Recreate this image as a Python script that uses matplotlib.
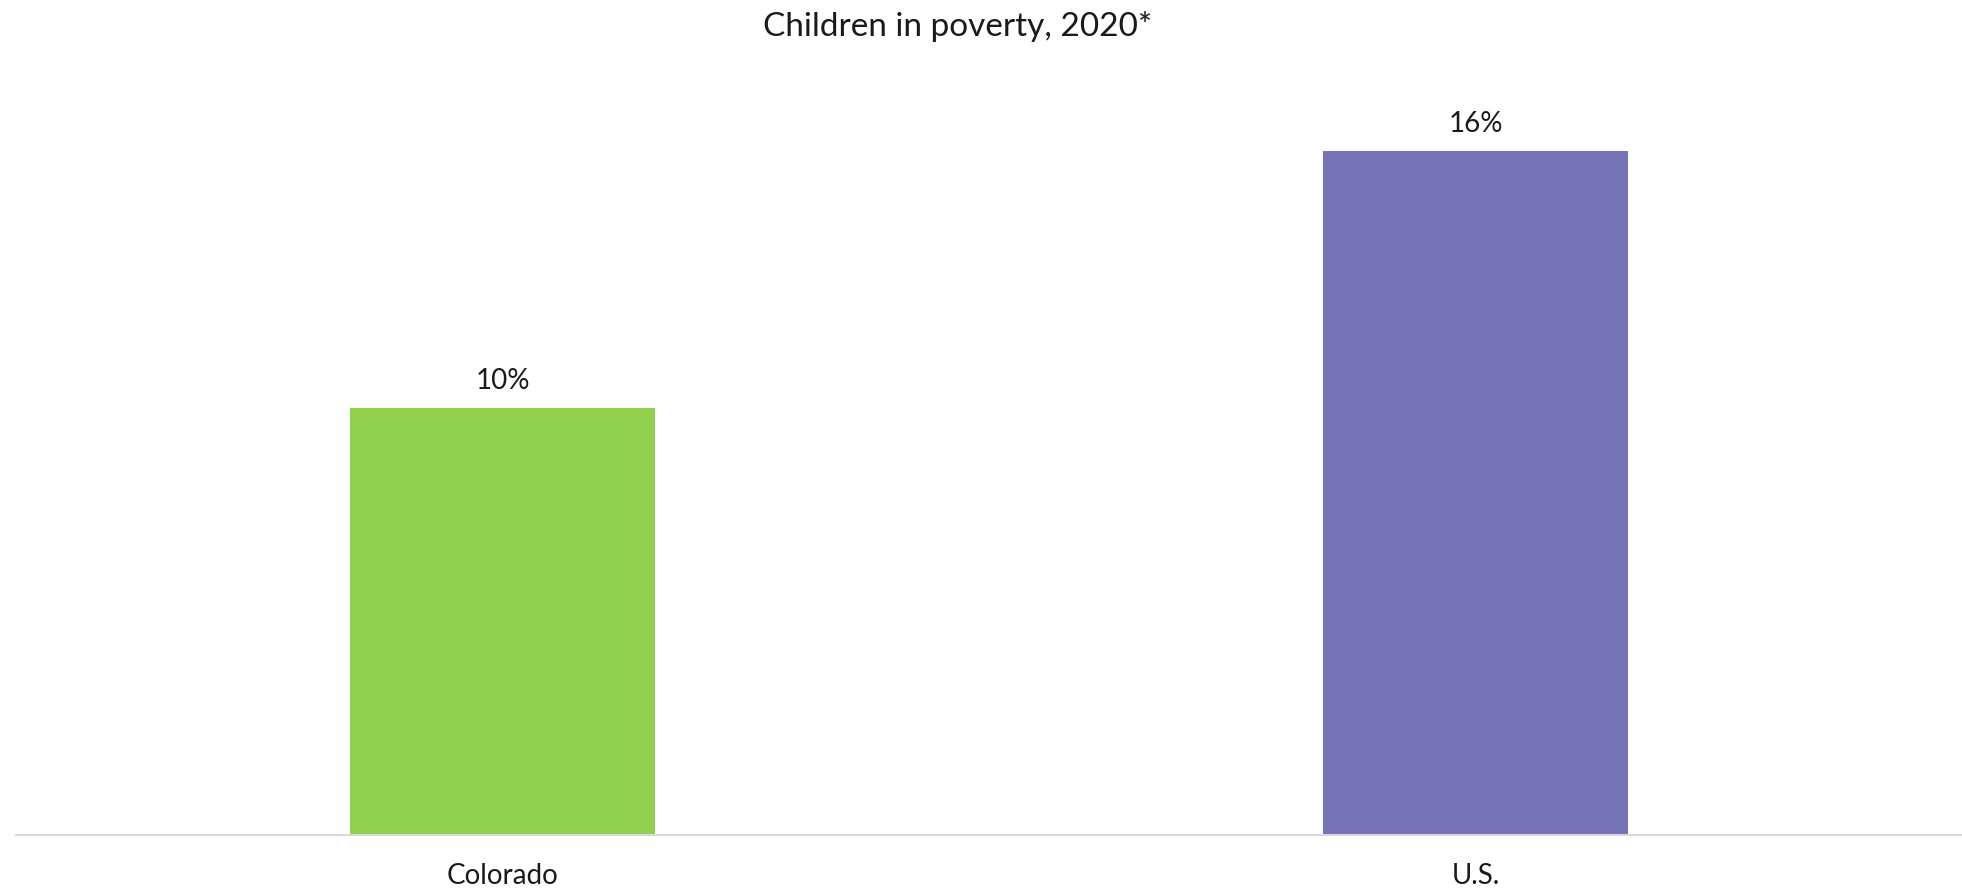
import matplotlib
matplotlib.use('Agg')
import matplotlib.pyplot as plt

# chart data
categories = ['Colorado', 'U.S.']
values = [10, 16]
labels = ['10%', '16%']
colors = ['#92D050', '#7674B6']

plt.rcParams['font.family'] = ['Lato', 'DejaVu Sans']

fig = plt.figure(figsize=(19.62, 8.92), dpi=100)
ax = fig.add_axes([16 / 1962, 57 / 892, 1946 / 1962, 769 / 892])

x = range(len(categories))
bars = ax.bar(x, values, width=0.314, color=colors)

# value labels above bars
for b, lab in zip(bars, labels):
    ax.annotate(lab, (b.get_x() + b.get_width() / 2, b.get_height()),
                xytext=(0, 14), textcoords='offset pixels',
                ha='center', va='bottom', fontsize=20, color='#1a1a1a')

ax.set_xlim(-0.5, 1.5)
ax.set_ylim(0, 18)
ax.set_xticks(list(x))
ax.set_xticklabels(categories, fontsize=20, color='#1a1a1a')
ax.tick_params(axis='x', length=0, pad=20)
ax.set_yticks([])

for s in ['top', 'right', 'left']:
    ax.spines[s].set_visible(False)
ax.spines['bottom'].set_color('#D9D9D9')
ax.spines['bottom'].set_linewidth(1.5)

fig.text(0.488, 1 - 27 / 892, 'Children in poverty, 2020*', ha='center', va='center',
         fontsize=24, color='#1a1a1a')

fig.savefig('out.png', dpi=100)
